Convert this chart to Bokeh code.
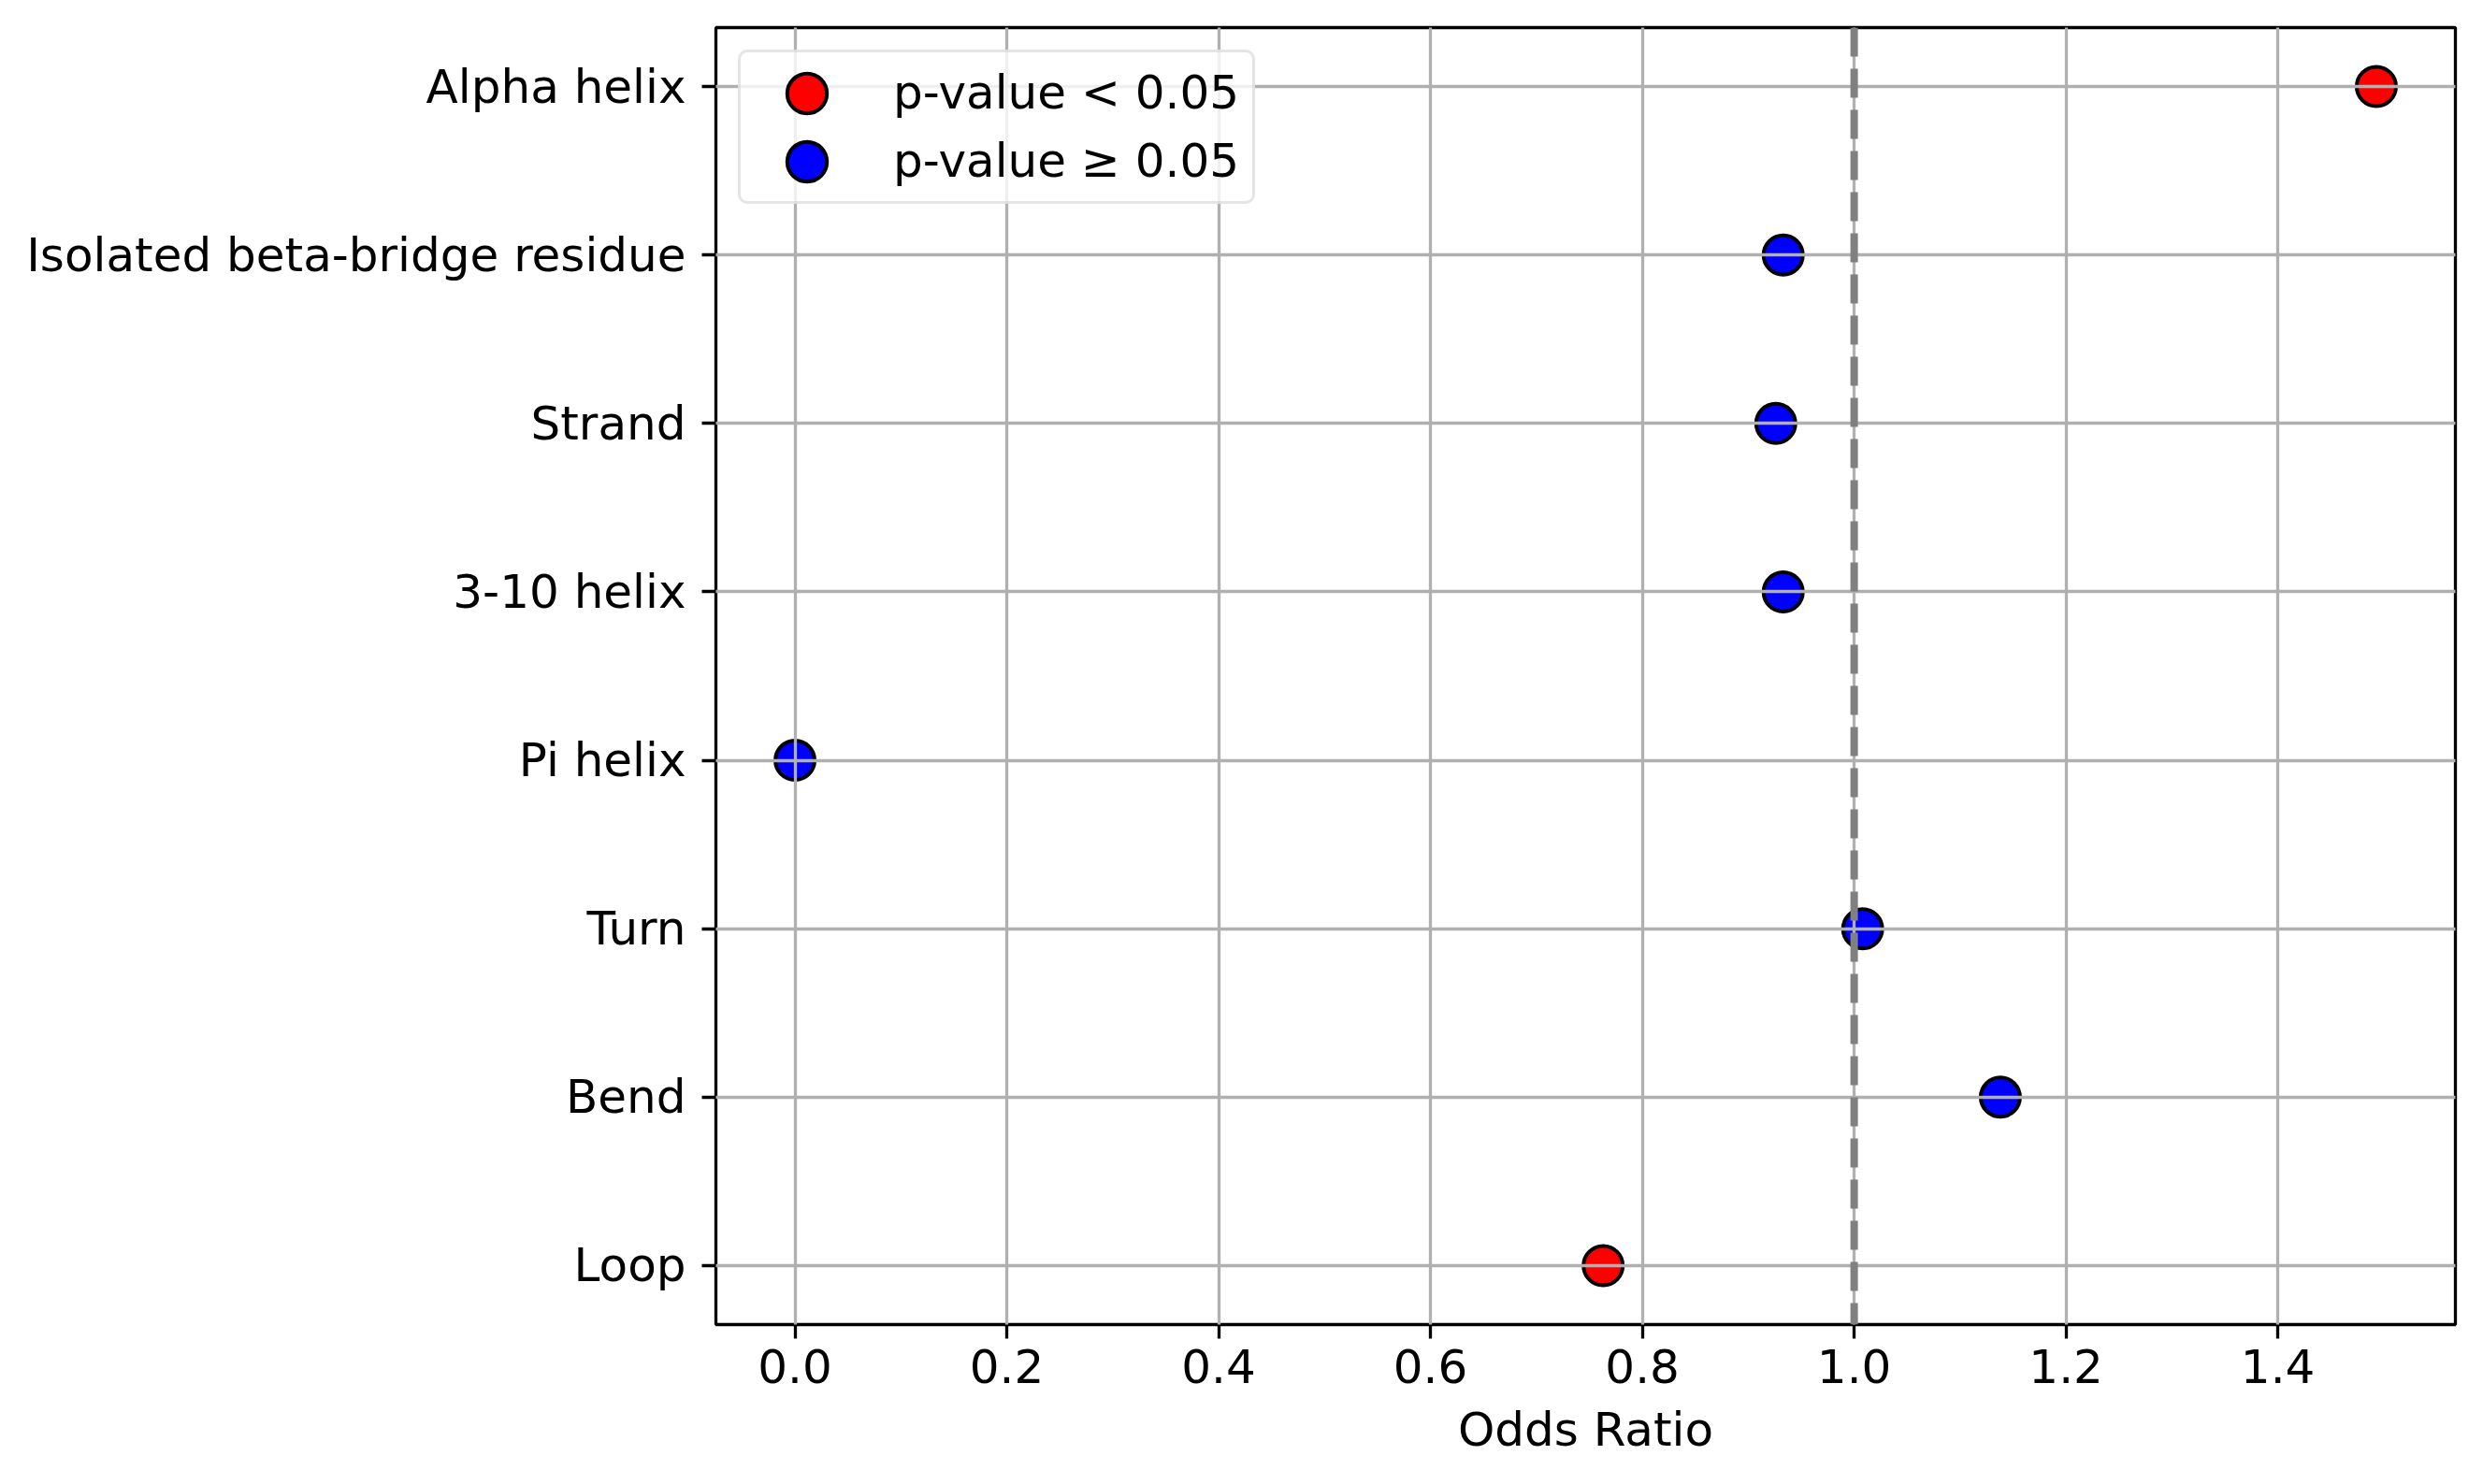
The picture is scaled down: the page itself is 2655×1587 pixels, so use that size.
from bokeh.plotting import figure
from bokeh.models import Range1d, FixedTicker, NumeralTickFormatter, Span, Legend, LegendItem, ColumnDataSource
from bokeh.embed import file_html
from bokeh.resources import INLINE

# ---- data (top-to-bottom order as shown) ----
categories = ["Alpha helix", "Isolated beta-bridge residue", "Strand", "3-10 helix",
              "Pi helix", "Turn", "Bend", "Loop"]
odds_ratio = [1.493, 0.933, 0.926, 0.933, 0.0, 1.008, 1.138, 0.763]
significant = [True, False, False, False, False, False, False, True]
x_ticks = [0.0, 0.2, 0.4, 0.6, 0.8, 1.0, 1.2, 1.4]
reference_line = 1.0
label_sig = "p-value < 0.05"
label_nonsig = "p-value \u2265 0.05"

FONT = "DejaVu Sans"
n = len(categories)
ypos = [n - 1 - i for i in range(n)]

xmin, xmax = min(odds_ratio), max(odds_ratio)
pad = 0.05 * (xmax - xmin)

p = figure(frame_width=1860, frame_height=1387,
           min_border_left=765, min_border_right=14, min_border_top=29, min_border_bottom=155,
           x_range=Range1d(xmin - pad, xmax + pad),
           y_range=Range1d(-0.35, n - 1 + 0.35),
           output_backend="svg", toolbar_location=None)

p.background_fill_color = "white"
p.border_fill_color = "white"
p.outline_line_color = "black"
p.outline_line_width = 3.3

# axes
p.xaxis.ticker = FixedTicker(ticks=x_ticks)
p.xaxis.formatter = NumeralTickFormatter(format="0.0")
p.yaxis.ticker = FixedTicker(ticks=ypos)
p.yaxis.major_label_overrides = {y: c for y, c in zip(ypos, categories)}
for ax in (p.xaxis[0], p.yaxis[0]):
    ax.axis_line_color = None
    ax.major_tick_in = 0
    ax.major_tick_out = 15
    ax.major_tick_line_width = 3.3
    ax.major_tick_line_color = "black"
    ax.minor_tick_line_color = None
    ax.major_label_text_font = FONT
    ax.major_label_text_font_size = "50px"
    ax.major_label_text_color = "black"
p.xaxis.major_label_standoff = 11
p.yaxis.major_label_standoff = 17
p.xaxis.axis_label = "Odds Ratio"
p.xaxis.axis_label_text_font = FONT
p.xaxis.axis_label_text_font_size = "50px"
p.xaxis.axis_label_text_font_style = "normal"
p.xaxis.axis_label_text_color = "black"
p.xaxis.axis_label_standoff = 18

# grid drawn above the points, like the reference
for g in (p.xgrid[0], p.ygrid[0]):
    g.grid_line_color = "#b0b0b0"
    g.grid_line_width = 3.3
    g.level = "guide"

sig_src = ColumnDataSource(dict(x=[o for o, s in zip(odds_ratio, significant) if s],
                                y=[y for y, s in zip(ypos, significant) if s]))
non_src = ColumnDataSource(dict(x=[o for o, s in zip(odds_ratio, significant) if not s],
                                y=[y for y, s in zip(ypos, significant) if not s]))

r_sig = p.ellipse("x", "y", source=sig_src, width=42, height=42,
                  width_units="screen", height_units="screen",
                  fill_color="#ff0000", line_color="black", line_width=4)
r_non = p.ellipse("x", "y", source=non_src, width=42, height=42,
                  width_units="screen", height_units="screen",
                  fill_color="#0000ff", line_color="black", line_width=4)

vline = Span(location=reference_line, dimension="height", line_color="#808080",
             line_width=8, line_dash="31 13")
p.add_layout(vline)

legend = Legend(items=[LegendItem(label=label_sig, renderers=[r_sig]),
                       LegendItem(label=label_nonsig, renderers=[r_non])],
                location="top_left", margin=24, padding=14,
                glyph_width=113, glyph_height=53, label_standoff=36, spacing=15,
                label_text_font=FONT, label_text_font_size="50px",
                label_text_color="black", label_text_baseline="middle",
                border_line_color="#cccccc", border_line_width=3.5,
                border_radius=10,
                background_fill_color="white", background_fill_alpha=0.8)
p.add_layout(legend)

open("out.html", "w").write(file_html(p, INLINE))
